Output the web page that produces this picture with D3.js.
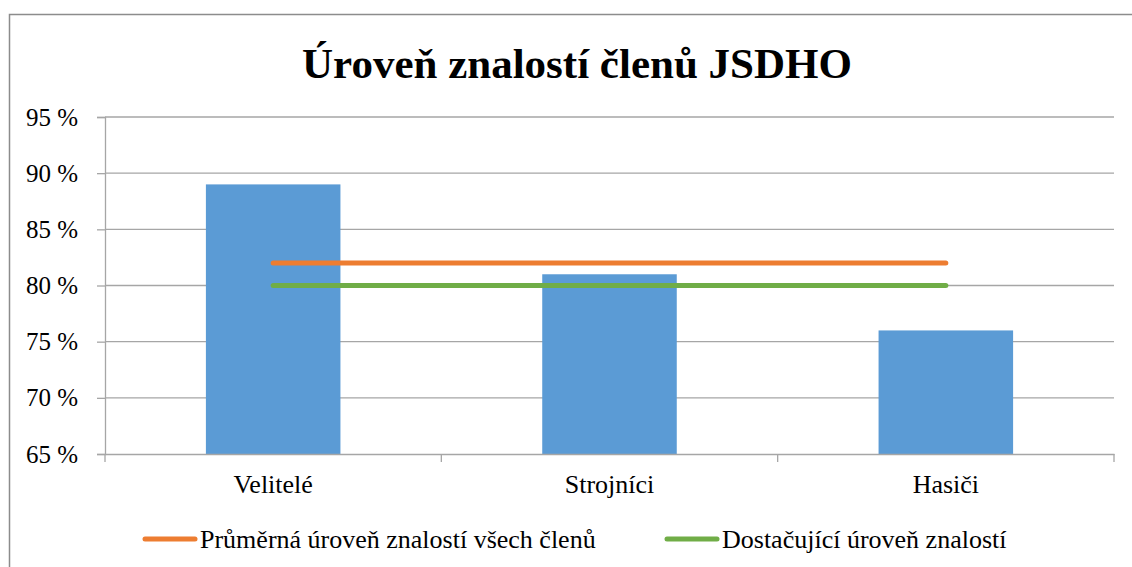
<!DOCTYPE html>
<html>
<head>
<meta charset="utf-8">
<script src="https://cdn.jsdelivr.net/npm/d3@7"></script>
<style>
  html, body { margin: 0; padding: 0; background: #fff; }
  svg text { font-family: "Liberation Serif", "Times New Roman", serif !important; fill: #000; }
</style>
</head>
<body>
<div id="chart"></div>
<script>
const categories = ["Velitelé", "Strojníci", "Hasiči"]
const values = [89, 81, 76]
const averageLevel = [82, 82, 82]
const sufficientLevel = [80, 80, 80]
const yTicks = [65, 70, 75, 80, 85, 90, 95]
const seriesNames = ["Průměrná úroveň znalostí všech členů", "Dostačující úroveň znalostí"]

const width = 1132, height = 567
const margin = { top: 117, right: 18, bottom: 113, left: 105 }

const svg = d3.select("#chart").append("svg")
  .attr("width", width)
  .attr("height", height)
  .attr("font-family", "Liberation Serif")

// chart frame (cut off at right/bottom like the reference)
svg.append("rect")
  .attr("x", 9.5).attr("y", 14.5)
  .attr("width", width + 20).attr("height", height + 20)
  .style("fill", "none")
  .style("stroke", "#8c8c8c")
  .style("stroke-width", 1.5)

svg.append("text")
  .attr("x", 577)
  .attr("y", 78)
  .attr("text-anchor", "middle")
  .style("font-size", "43px")
  .style("font-weight", "bold")
  .text("Úroveň znalostí členů JSDHO")

const x = d3.scaleBand()
  .domain(categories)
  .range([margin.left, width - margin.right])
  .padding(0)

const y = d3.scaleLinear()
  .domain([65, 95])
  .range([height - margin.bottom, margin.top])

// y axis + ticks
const yAxis = svg.append("g")
  .attr("transform", `translate(${margin.left},0)`)
  .call(d3.axisLeft(y).tickValues(yTicks).tickSize(8).tickFormat(d => d + " %"))
yAxis.attr("font-family", "Liberation Serif")
yAxis.select(".domain").style("stroke", "#a6a6a6").style("stroke-width", 1.3)
yAxis.selectAll(".tick line").style("stroke", "#a6a6a6").style("stroke-width", 1.3)
yAxis.selectAll(".tick text")
  .attr("x", -27)
  .style("font-size", "25px")

// gridlines
svg.append("g").selectAll("line")
  .data(yTicks.filter(t => t > 65))
  .enter().append("line")
  .attr("x1", margin.left)
  .attr("x2", width - margin.right)
  .attr("y1", d => y(d))
  .attr("y2", d => y(d))
  .style("stroke", "#a6a6a6")
  .style("stroke-width", 1.3)

// bars
const barW = x.bandwidth() * 0.4
svg.append("g").selectAll("rect")
  .data(values)
  .enter().append("rect")
  .attr("x", (d, i) => x(categories[i]) + (x.bandwidth() - barW) / 2)
  .attr("y", d => y(d))
  .attr("width", barW)
  .attr("height", d => y(65) - y(d))
  .style("fill", "#5b9bd5")

// x axis
const xAxis = svg.append("g")
  .attr("transform", `translate(0,${y(65)})`)
  .call(d3.axisBottom(x).tickSize(0).tickPadding(21))
xAxis.attr("font-family", "Liberation Serif")
xAxis.select(".domain").style("stroke", "#a6a6a6").style("stroke-width", 1.3)
xAxis.selectAll(".tick text")
  .style("font-size", "26px")

// category boundary ticks
const bounds = categories.map(c => x(c)).concat([x.range()[1]])
svg.append("g").selectAll("line")
  .data(bounds)
  .enter().append("line")
  .attr("x1", d => d).attr("x2", d => d)
  .attr("y1", y(65)).attr("y2", y(65) + 8)
  .style("stroke", "#a6a6a6")
  .style("stroke-width", 1.3)

// level lines
const line = d3.line()
  .x((d, i) => x(categories[i]) + x.bandwidth() / 2)
  .y(d => y(d))

svg.append("path")
  .datum(averageLevel)
  .attr("d", line)
  .style("fill", "none")
  .style("stroke", "#ed7d31")
  .style("stroke-width", 5)
  .style("stroke-linecap", "round")

svg.append("path")
  .datum(sufficientLevel)
  .attr("d", line)
  .style("fill", "none")
  .style("stroke", "#70ad47")
  .style("stroke-width", 5)
  .style("stroke-linecap", "round")

// legend
const legendItems = [
  { name: seriesNames[0], color: "#ed7d31", x: 145 },
  { name: seriesNames[1], color: "#70ad47", x: 667 }
]
const lg = svg.append("g").selectAll("g")
  .data(legendItems)
  .enter().append("g")
  .attr("transform", d => `translate(${d.x},539)`)
lg.append("line")
  .attr("x1", 0).attr("x2", 50)
  .style("stroke", d => d.color)
  .style("stroke-width", 5)
  .style("stroke-linecap", "round")
lg.append("text")
  .attr("x", 55)
  .attr("y", 9)
  .style("font-size", "26px")
  .text(d => d.name)
</script>
</body>
</html>
